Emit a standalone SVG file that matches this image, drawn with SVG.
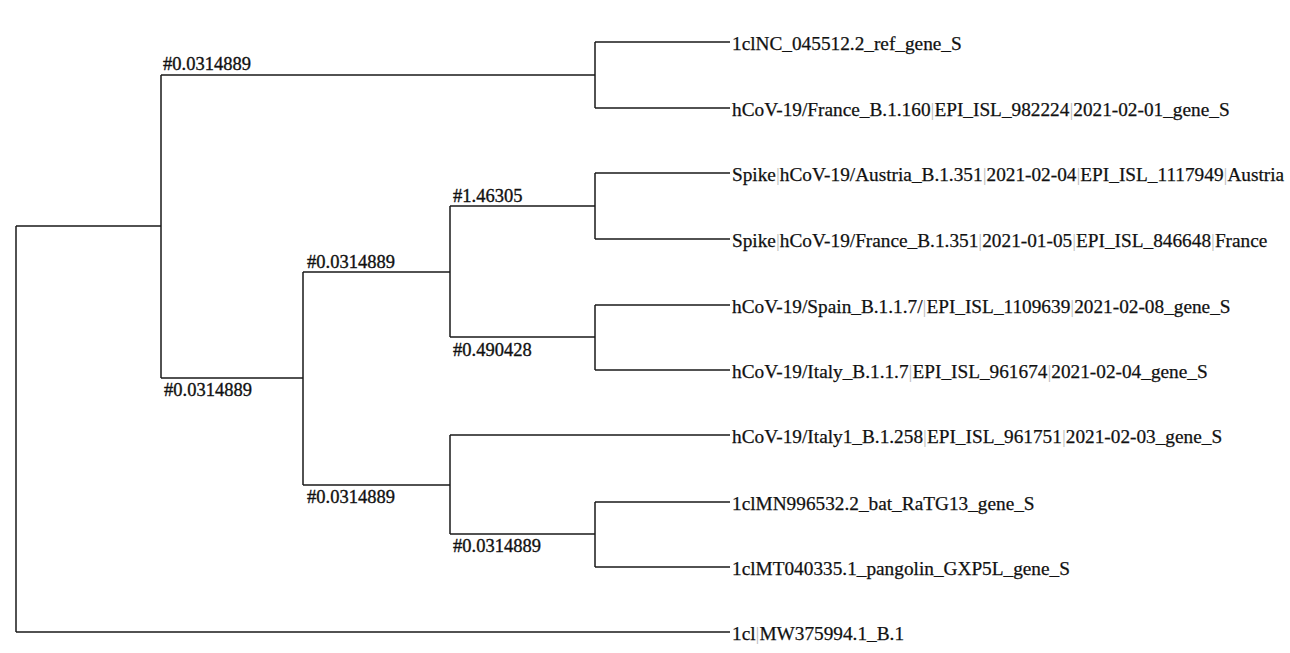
<svg xmlns="http://www.w3.org/2000/svg" width="1290" height="653" viewBox="0 0 1290 653">
<style>
.e{fill:none;stroke:#1a1a1a;stroke-width:1.5}
.leaf{font-family:"Liberation Serif",serif;font-size:19.3px;fill:#111;stroke:#111;stroke-width:0.25}
.bl{font-family:"Liberation Serif",serif;font-size:18.5px;fill:#111;stroke:#111;stroke-width:0.35}
.p{fill:#bbbbbb;stroke:none}
</style>
<rect width="1290" height="653" fill="#ffffff"/>
<g id="connectors">
<path class="e" d="M16,226 V632 M16,226 H161 M16,632 H730"/>
<path class="e" d="M161,75 V378 M161,75 H595 M161,378 H303"/>
<path class="e" d="M595,42 V108 M595,42 H730 M595,108 H730"/>
<path class="e" d="M303,272 V485 M303,272 H450 M303,485 H450"/>
<path class="e" d="M450,206 V337 M450,206 H595 M450,337 H595"/>
<path class="e" d="M595,173 V239 M595,173 H730 M595,239 H730"/>
<path class="e" d="M595,305 V370 M595,305 H730 M595,370 H730"/>
<path class="e" d="M450,435 V534 M450,435 H730 M450,534 H595"/>
<path class="e" d="M595,502 V567 M595,502 H730 M595,567 H730"/>
</g>
<g id="branch-labels">
<text class="bl" x="163" y="70">#0.0314889</text>
<text class="bl" x="164" y="396">#0.0314889</text>
<text class="bl" x="307" y="268">#0.0314889</text>
<text class="bl" x="307" y="503">#0.0314889</text>
<text class="bl" x="453" y="202">#1.46305</text>
<text class="bl" x="453" y="356">#0.490428</text>
<text class="bl" x="453" y="552">#0.0314889</text>
</g>
<g id="leaf1"><text class="leaf" x="732" y="50">1clNC_045512.2_ref_gene_S</text></g>
<g id="leaf2"><text class="leaf" x="732" y="116">hCoV-19/France_B.1.160<tspan class="p">|</tspan>EPI_ISL_982224<tspan class="p">|</tspan>2021-02-01_gene_S</text></g>
<g id="leaf3"><text class="leaf" x="732" y="181">Spike<tspan class="p">|</tspan>hCoV-19/Austria_B.1.351<tspan class="p">|</tspan>2021-02-04<tspan class="p">|</tspan>EPI_ISL_1117949<tspan class="p">|</tspan>Austria</text></g>
<g id="leaf4"><text class="leaf" x="732" y="247">Spike<tspan class="p">|</tspan>hCoV-19/France_B.1.351<tspan class="p">|</tspan>2021-01-05<tspan class="p">|</tspan>EPI_ISL_846648<tspan class="p">|</tspan>France</text></g>
<g id="leaf5"><text class="leaf" x="732" y="313">hCoV-19/Spain_B.1.1.7/<tspan class="p">|</tspan>EPI_ISL_1109639<tspan class="p">|</tspan>2021-02-08_gene_S</text></g>
<g id="leaf6"><text class="leaf" x="732" y="378">hCoV-19/Italy_B.1.1.7<tspan class="p">|</tspan>EPI_ISL_961674<tspan class="p">|</tspan>2021-02-04_gene_S</text></g>
<g id="leaf7"><text class="leaf" x="732" y="443">hCoV-19/Italy1_B.1.258<tspan class="p">|</tspan>EPI_ISL_961751<tspan class="p">|</tspan>2021-02-03_gene_S</text></g>
<g id="leaf8"><text class="leaf" x="732" y="510">1clMN996532.2_bat_RaTG13_gene_S</text></g>
<g id="leaf9"><text class="leaf" x="732" y="575">1clMT040335.1_pangolin_GXP5L_gene_S</text></g>
<g id="leaf10"><text class="leaf" x="732" y="640">1cl<tspan class="p">|</tspan>MW375994.1_B.1</text></g>
</svg>
